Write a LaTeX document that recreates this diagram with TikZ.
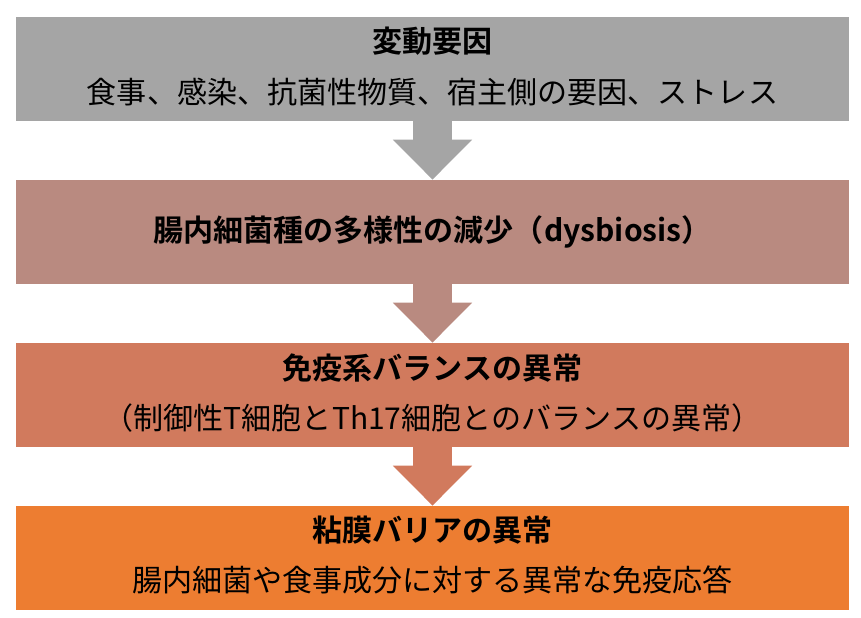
\documentclass[tikz,border=0pt]{standalone}
\usepackage{fontspec}
\setmainfont{Noto Sans CJK JP}[BoldFont={Noto Sans CJK JP Bold}]
\usetikzlibrary{arrows.meta}

\definecolor{boxgray}{HTML}{A5A5A5}
\definecolor{boxrose}{HTML}{B98A80}
\definecolor{boxbrick}{HTML}{D17A5D}
\definecolor{boxorange}{HTML}{ED7D31}

\begin{document}
\begin{tikzpicture}[
    stagebox/.style={draw=none,fill=#1,minimum width=16.66cm,minimum height=2.08cm,inner sep=0pt},
    headtext/.style={font=\bfseries\fontsize{17.1}{19}\selectfont,inner sep=0pt},
    bodytext/.style={font=\fontsize{17.1}{19}\selectfont,inner sep=0pt},
    flow/.style={draw=#1,line width=0.78cm,-{Triangle[length=0.8cm,width=1.54cm]}}
  ]

    \useasboundingbox (0,0) rectangle (17.22,-12.34);

    % draw boxes
    \node[stagebox=boxgray]   (factor)  at (8.65,-1.38)  {};
    \node[stagebox=boxrose]   (dysb)    at (8.65,-4.64)  {};
    \node[stagebox=boxbrick]  (immune)  at (8.65,-7.90)  {};
    \node[stagebox=boxorange] (mucosa)  at (8.65,-11.16) {};

    % draw arrows
    \draw[flow=boxgray]  (factor.south) -- (dysb.north);
    \draw[flow=boxrose]  (dysb.south)   -- (immune.north);
    \draw[flow=boxbrick] (immune.south) -- (mucosa.north);

    % texts
    \node[headtext] (factorhead) at ([yshift=-0.5cm]factor.north) {変動要因};
    \node[bodytext] (factorbody) at ([yshift=-1.5cm]factor.north) {食事、感染、抗菌性物質、宿主側の要因、ストレス};

    \node[headtext] (dysbhead) at (dysb.center) {腸内細菌種の多様性の減少（dysbiosis）};

    \node[headtext] (immunehead) at ([yshift=-0.5cm]immune.north) {免疫系バランスの異常};
    \node[bodytext] (immunebody) at ([yshift=-1.5cm]immune.north) {（制御性T細胞とTh17細胞とのバランスの異常）};

    \node[headtext] (mucosahead) at ([yshift=-0.48cm]mucosa.north) {粘膜バリアの異常};
    \node[bodytext] (mucosabody) at ([yshift=-1.48cm]mucosa.north) {腸内細菌や食事成分に対する異常な免疫応答};
  \end{tikzpicture}
\end{document}
